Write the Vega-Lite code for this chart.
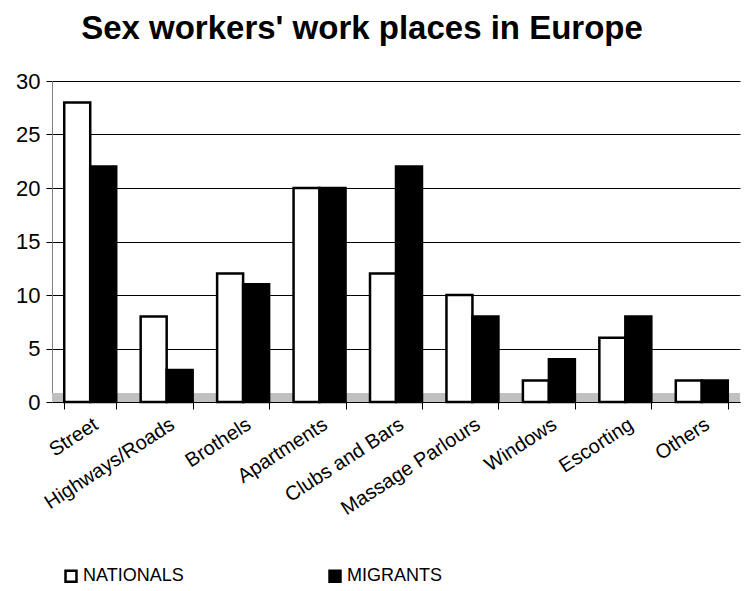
{
  "$schema": "https://vega.github.io/schema/vega-lite/v6.json",
  "autosize": "none",
  "width": 688,
  "height": 321,
  "padding": {"left": 52, "top": 81, "right": 9, "bottom": 189},
  "background": "white",
  "config": {
    "font": "Liberation Sans",
    "view": {"stroke": null}
  },
  "title": {
    "text": "Sex workers' work places in Europe",
    "fontSize": 33,
    "fontWeight": "bold",
    "font": "Liberation Sans",
    "color": "black",
    "anchor": "middle",
    "dx": -34,
    "offset": 24
  },
  "data": {
    "values": [
      {"place": "Street", "group": "NATIONALS", "value": 28},
      {"place": "Street", "group": "MIGRANTS", "value": 22},
      {"place": "Highways/Roads", "group": "NATIONALS", "value": 8},
      {"place": "Highways/Roads", "group": "MIGRANTS", "value": 3},
      {"place": "Brothels", "group": "NATIONALS", "value": 12},
      {"place": "Brothels", "group": "MIGRANTS", "value": 11},
      {"place": "Apartments", "group": "NATIONALS", "value": 20},
      {"place": "Apartments", "group": "MIGRANTS", "value": 20},
      {"place": "Clubs and Bars", "group": "NATIONALS", "value": 12},
      {"place": "Clubs and Bars", "group": "MIGRANTS", "value": 22},
      {"place": "Massage Parlours", "group": "NATIONALS", "value": 10},
      {"place": "Massage Parlours", "group": "MIGRANTS", "value": 8},
      {"place": "Windows", "group": "NATIONALS", "value": 2},
      {"place": "Windows", "group": "MIGRANTS", "value": 4},
      {"place": "Escorting", "group": "NATIONALS", "value": 6},
      {"place": "Escorting", "group": "MIGRANTS", "value": 8},
      {"place": "Others", "group": "NATIONALS", "value": 2},
      {"place": "Others", "group": "MIGRANTS", "value": 2}
    ]
  },
  "layer": [
    {
      "mark": {"type": "rect", "color": "#c0c0c0"},
      "encoding": {
        "y": {"datum": 0, "type": "quantitative"},
        "y2": {"datum": 0.8}
      }
    },
    {
      "mark": {"type": "bar", "stroke": "black", "strokeWidth": 2.5},
      "encoding": {
        "x": {
          "field": "place",
          "type": "nominal",
          "sort": null,
          "scale": {"paddingInner": 0.32, "paddingOuter": 0.16},
          "axis": {
            "title": null,
            "labelAngle": -33,
            "labelFontSize": 20,
            "labelColor": "black",
            "labelPadding": 5,
            "domainColor": "#000000",
            "tickColor": "#000000",
            "tickSize": 7,
            "tickBand": "extent",
            "labelFont": "Liberation Sans"
          }
        },
        "xOffset": {"field": "group", "sort": ["NATIONALS", "MIGRANTS"]},
        "y": {
          "field": "value",
          "type": "quantitative",
          "scale": {"domain": [0, 30]},
          "axis": {
            "title": null,
            "values": [0, 5, 10, 15, 20, 25, 30],
            "labelFontSize": 22,
            "labelColor": "black",
            "labelPadding": 6,
            "domainColor": "#808080",
            "tickColor": "#000000",
            "tickSize": 6,
            "grid": true,
            "gridColor": "#000000",
            "gridWidth": 1,
            "labelFont": "Liberation Sans"
          }
        },
        "color": {
          "field": "group",
          "type": "nominal",
          "sort": ["NATIONALS", "MIGRANTS"],
          "scale": {"domain": ["NATIONALS", "MIGRANTS"], "range": ["#ffffff", "#000000"]},
          "legend": {
            "title": null,
            "orient": "none",
            "direction": "horizontal",
            "legendX": 10,
            "legendY": 486,
            "symbolType": "square",
            "symbolSize": 120,
            "symbolStrokeColor": "black",
            "symbolStrokeWidth": 2.5,
            "labelFontSize": 18,
            "labelColor": "black",
            "labelOffset": 3,
            "columnPadding": 140,
            "labelFont": "Liberation Sans"
          }
        }
      }
    }
  ]
}
